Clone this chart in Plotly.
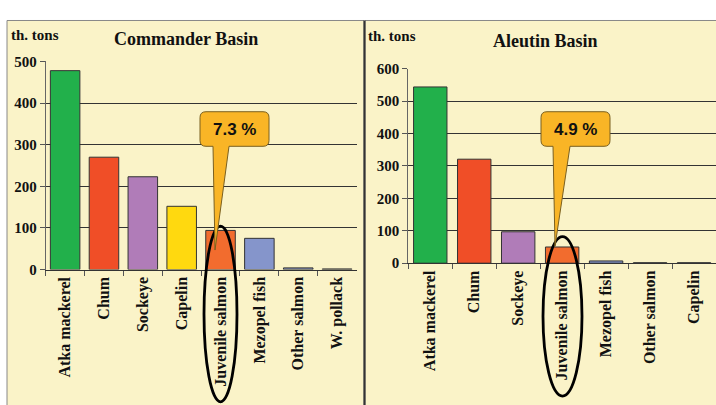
import plotly.graph_objects as go

W, H = 716, 405

# ---- data ----
cmd_categories = ["Atka mackerel", "Chum", "Sockeye", "Capelin", "Juvenile salmon",
                  "Mezopel fish", "Other salmon", "W. pollack"]
cmd_values = [478, 270, 223, 152, 94, 75, 4, 1.5]
cmd_colors = ["#22B04B", "#F04E27", "#B07CB8", "#FFD90F", "#F26C2E", "#8595CB", "#7A86B0", "#555555"]

ale_categories = ["Atka mackerel", "Chum", "Sockeye", "Juvenile salmon",
                  "Mezopel fish", "Other salmon", "Capelin"]
ale_values = [544, 321, 97, 50, 7, 1.5, 1.5]
ale_colors = ["#22B04B", "#F04E27", "#B07CB8", "#F26C2E", "#8595CB", "#555555", "#555555"]

cmd_tick_vals = [0, 100, 200, 300, 400, 500]
ale_tick_vals = [0, 100, 200, 300, 400, 500, 600]
cmd_share = "7.3 %"
ale_share = "4.9 %"

BG = "#FAF3C8"
SERIF = "Liberation Serif"


def X(px):
    return px / W


def Y(py):
    return 1 - py / H


fig = go.Figure()
fig.add_trace(go.Bar(x=cmd_categories, y=cmd_values, marker=dict(color=cmd_colors, line=dict(color="#333333", width=1)),
                     xaxis="x", yaxis="y", showlegend=False, hoverinfo="skip"))
fig.add_trace(go.Bar(x=ale_categories, y=ale_values, marker=dict(color=ale_colors, line=dict(color="#333333", width=1)),
                     xaxis="x2", yaxis="y2", showlegend=False, hoverinfo="skip"))

xtickfont = dict(family=SERIF, size=16, color="#111111")
ytickfont = dict(family=SERIF, size=15, color="#111111")
common_x = dict(type="category", tickangle=-90, tickfont=xtickfont, ticks="outside", tickson="boundaries",
                ticklen=5, tickcolor="#555555", showline=True, linecolor="#333333", linewidth=1,
                showgrid=False, fixedrange=True)
common_y = dict(tickfont=ytickfont, ticks="outside", ticklen=5, tickcolor="#555555", showline=True,
                linecolor="#666666", linewidth=1, showgrid=True, gridcolor="#333333", gridwidth=1,
                zeroline=False, fixedrange=True)

shapes = [
    # panel backgrounds
    dict(type="rect", xref="paper", yref="paper", x0=X(7), x1=X(364), y0=Y(415), y1=Y(13),
         fillcolor=BG, line=dict(color="#888888", width=1), layer="below"),
    dict(type="rect", xref="paper", yref="paper", x0=X(365), x1=X(730), y0=Y(415), y1=Y(13),
         fillcolor=BG, line=dict(color="#888888", width=1), layer="below"),
    dict(type="line", xref="paper", yref="paper", x0=X(364.5), x1=X(364.5), y0=Y(415), y1=Y(13),
         line=dict(color="#333333", width=2)),
    # ellipses
    dict(type="circle", xref="paper", yref="paper", x0=X(204), x1=X(237), y0=Y(410), y1=Y(227),
         line=dict(color="#000000", width=2.8)),
    dict(type="circle", xref="paper", yref="paper", x0=X(543), x1=X(582), y0=Y(404), y1=Y(238),
         line=dict(color="#000000", width=2.8)),
]


def callout(x0, x1, y0, y1, b0, b1, tx, ty, r=6):
    p = f"M {X(x0 + r)},{Y(y0)} L {X(x1 - r)},{Y(y0)} Q {X(x1)},{Y(y0)} {X(x1)},{Y(y0 + r)} "
    p += f"L {X(x1)},{Y(y1 - r)} Q {X(x1)},{Y(y1)} {X(x1 - r)},{Y(y1)} "
    p += f"L {X(b1)},{Y(y1)} L {X(tx)},{Y(ty)} L {X(b0)},{Y(y1)} "
    p += f"L {X(x0 + r)},{Y(y1)} Q {X(x0)},{Y(y1)} {X(x0)},{Y(y1 - r)} "
    p += f"L {X(x0)},{Y(y0 + r)} Q {X(x0)},{Y(y0)} {X(x0 + r)},{Y(y0)} Z"
    return dict(type="path", xref="paper", yref="paper", path=p, fillcolor="#F9B526",
                line=dict(color="#7A6020", width=1))


shapes.append(callout(200, 269, 108, 144, 213, 229, 215, 252))
shapes.append(callout(541, 610, 108, 144, 553, 570, 555, 248))

annotations = [
    dict(text="<b>Commander Basin</b>", x=X(186), y=Y(32), xref="paper", yref="paper", showarrow=False,
         font=dict(family=SERIF, size=18, color="#111111"), xanchor="center", yanchor="middle"),
    dict(text="<b>th. tons</b>", x=X(9), y=Y(28), xref="paper", yref="paper", showarrow=False,
         font=dict(family=SERIF, size=15, color="#111111"), xanchor="left", yanchor="middle"),
    dict(text="<b>Aleutin Basin</b>", x=X(545), y=Y(34), xref="paper", yref="paper", showarrow=False,
         font=dict(family=SERIF, size=18, color="#111111"), xanchor="center", yanchor="middle"),
    dict(text="<b>th. tons</b>", x=X(366), y=Y(29), xref="paper", yref="paper", showarrow=False,
         font=dict(family=SERIF, size=15, color="#111111"), xanchor="left", yanchor="middle"),
    dict(text=f"<b>{cmd_share}</b>", x=X(234.5), y=Y(126), xref="paper", yref="paper", showarrow=False,
         font=dict(family="Liberation Sans", size=17, color="#111111"), xanchor="center", yanchor="middle"),
    dict(text=f"<b>{ale_share}</b>", x=X(575.5), y=Y(126), xref="paper", yref="paper", showarrow=False,
         font=dict(family="Liberation Sans", size=17, color="#111111"), xanchor="center", yanchor="middle"),
]

fig.update_layout(
    width=W, height=H,
    margin=dict(l=0, r=0, t=0, b=0),
    paper_bgcolor="white",
    plot_bgcolor=BG,
    bargap=0.24,
    xaxis=dict(domain=[X(45.7), X(356.5)], anchor="y", tickvals=cmd_categories,
               ticktext=[f"<b>{c}</b>" for c in cmd_categories], **common_x),
    yaxis=dict(domain=[Y(272.3), Y(55.7)], anchor="x", range=[0, 500], tickvals=cmd_tick_vals,
               ticktext=[f"<b>{v}</b>" for v in cmd_tick_vals], **common_y),
    xaxis2=dict(domain=[X(408.3), 1.0], anchor="y2", tickvals=ale_categories,
                ticktext=[f"<b>{c}</b>" for c in ale_categories], **common_x),
    yaxis2=dict(domain=[Y(265.7), Y(63.3)], anchor="x2", range=[0, 600], tickvals=ale_tick_vals,
                ticktext=[f"<b>{v}</b>" for v in ale_tick_vals], **common_y),
    shapes=shapes,
    annotations=annotations,
)

fig.write_html(
    "out.html",
    config={"displayModeBar": False},
    post_script="document.body.style.margin='0';document.body.style.padding='0';"
                "document.body.style.overflow='hidden';document.documentElement.style.overflow='hidden';",
)
